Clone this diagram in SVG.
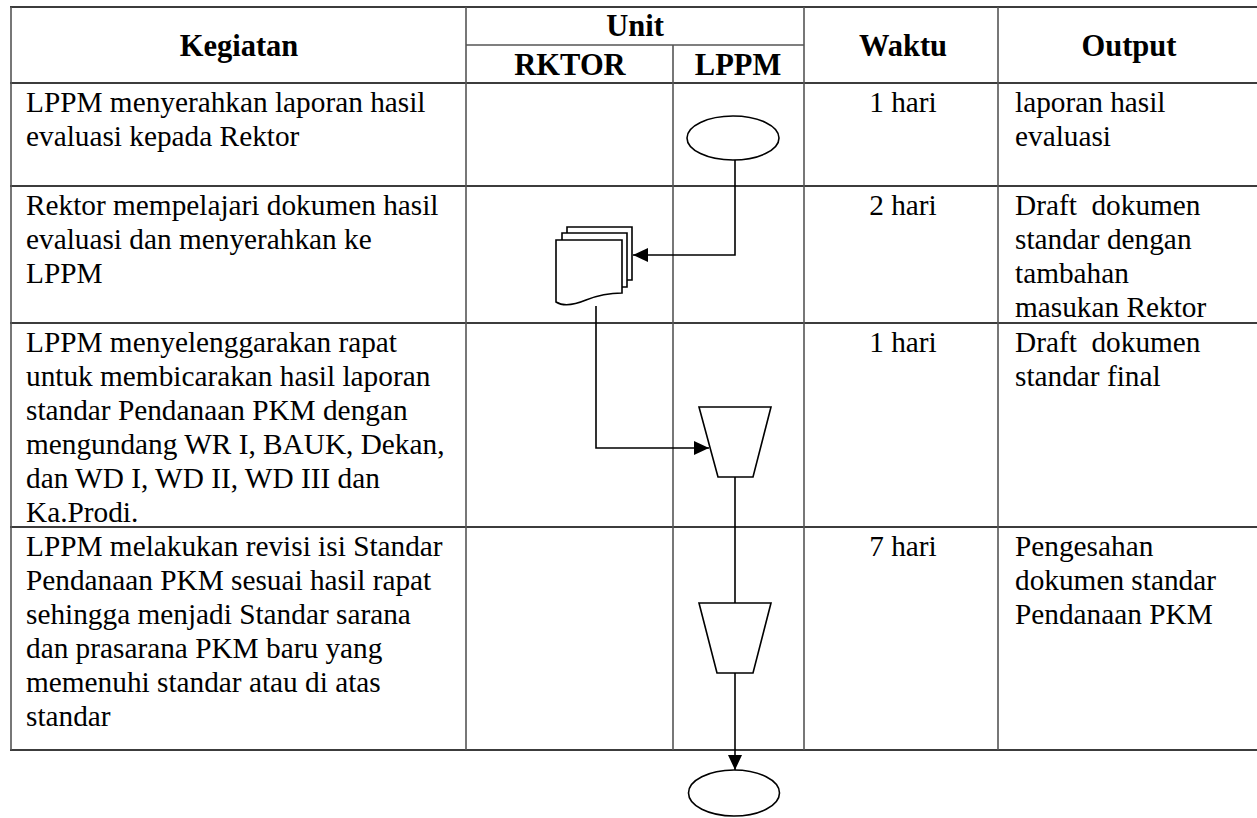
<svg xmlns="http://www.w3.org/2000/svg" width="1257" height="818" viewBox="0 0 1257 818">
<style>
.grid{stroke:#3c3c3c;stroke-width:2;fill:none}
.vgrid{stroke:#555;stroke-width:1.6;fill:none}
.hd{font-family:"Liberation Serif",Tinos,"Times New Roman","DejaVu Serif",serif;font-weight:bold;font-size:30.5px;fill:#000;text-anchor:middle}
.tx{font-family:"Liberation Serif",Tinos,"Times New Roman","DejaVu Serif",serif;font-weight:400;font-style:normal;font-size:29.3px;fill:#000}
.ctr{text-anchor:middle}
.shape{fill:#fff;stroke:#000;stroke-width:1.6}
.conn{fill:none;stroke:#000;stroke-width:1.6}
</style>
<defs>
<marker id="arr" markerWidth="16" markerHeight="14" refX="15" refY="7" orient="auto" markerUnits="userSpaceOnUse">
<path d="M0,0 L15,7 L0,14 Z" fill="#000"/>
</marker>
</defs>
<rect width="1257" height="818" fill="#fff"/>
<g id="table">
<line class="grid" x1="10" y1="7" x2="1257" y2="7"/>
<line class="grid" x1="10" y1="83" x2="1257" y2="83"/>
<line class="grid" x1="10" y1="186" x2="1257" y2="186"/>
<line class="grid" x1="10" y1="323" x2="1257" y2="323"/>
<line class="grid" x1="10" y1="527" x2="1257" y2="527"/>
<line class="grid" x1="10" y1="750" x2="1257" y2="750"/>
<line class="vgrid" x1="466" y1="45" x2="804" y2="45"/>
<line class="vgrid" x1="11" y1="7" x2="11" y2="750"/>
<line class="vgrid" x1="466" y1="7" x2="466" y2="750"/>
<line class="vgrid" x1="673" y1="45" x2="673" y2="750"/>
<line class="vgrid" x1="804" y1="7" x2="804" y2="750"/>
<line class="vgrid" x1="998" y1="7" x2="998" y2="750"/>
<text class="hd" x="239" y="56">Kegiatan</text>
<text class="hd" x="635" y="36">Unit</text>
<text class="hd" x="570" y="75">RKTOR</text>
<text class="hd" x="738" y="75">LPPM</text>
<text class="hd" x="903" y="56">Waktu</text>
<text class="hd" x="1129" y="56">Output</text>
</g>
<g id="row1-text">
<text class="tx" x="26" y="112">LPPM menyerahkan laporan hasil<tspan x="26" dy="34">evaluasi kepada Rektor</tspan></text>
<text class="tx ctr" x="903" y="112">1 hari</text>
<text class="tx" x="1015" y="112">laporan hasil<tspan x="1015" dy="34">evaluasi</tspan></text>
</g>
<g id="row2-text">
<text class="tx" x="26" y="215">Rektor mempelajari dokumen hasil<tspan x="26" dy="34">evaluasi dan menyerahkan ke</tspan><tspan x="26" dy="34">LPPM</tspan></text>
<text class="tx ctr" x="903" y="215">2 hari</text>
<text class="tx" x="1015" y="215" xml:space="preserve">Draft  dokumen<tspan x="1015" dy="34">standar dengan</tspan><tspan x="1015" dy="34">tambahan</tspan><tspan x="1015" dy="34">masukan Rektor</tspan></text>
</g>
<g id="row3-text">
<text class="tx" x="26" y="352">LPPM menyelenggarakan rapat<tspan x="26" dy="34">untuk membicarakan hasil laporan</tspan><tspan x="26" dy="34">standar Pendanaan PKM dengan</tspan><tspan x="26" dy="34">mengundang WR I, BAUK, Dekan,</tspan><tspan x="26" dy="34">dan WD I, WD II, WD III dan</tspan><tspan x="26" dy="34">Ka.Prodi.</tspan></text>
<text class="tx ctr" x="903" y="352">1 hari</text>
<text class="tx" x="1015" y="352" xml:space="preserve">Draft  dokumen<tspan x="1015" dy="34">standar final</tspan></text>
</g>
<g id="row4-text">
<text class="tx" x="26" y="556">LPPM melakukan revisi isi Standar<tspan x="26" dy="34">Pendanaan PKM sesuai hasil rapat</tspan><tspan x="26" dy="34">sehingga menjadi Standar sarana</tspan><tspan x="26" dy="34">dan prasarana PKM baru yang</tspan><tspan x="26" dy="34">memenuhi standar atau di atas</tspan><tspan x="26" dy="34">standar</tspan></text>
<text class="tx ctr" x="903" y="556">7 hari</text>
<text class="tx" x="1015" y="556">Pengesahan<tspan x="1015" dy="34">dokumen standar</tspan><tspan x="1015" dy="34">Pendanaan PKM</tspan></text>
</g>
<g id="connectors">
<path class="conn" d="M735,160 V255 H633" marker-end="url(#arr)"/>
<path class="conn" d="M596,306 V448 H709" marker-end="url(#arr)"/>
<path class="conn" d="M735,477 V603"/>
<path class="conn" d="M735,673 V770" marker-end="url(#arr)"/>
</g>
<g id="start">
<ellipse class="shape" cx="733" cy="138" rx="46" ry="22"/>
</g>
<g id="document">
<path class="shape" d="M567,227 H632 V280 H567 Z"/>
<path class="shape" d="M562,233 H627 V287 H562 Z"/>
<path class="shape" d="M556,240 H622 V293 C606,293 596,296 586,300 C574,305 564,307 556,302 Z"/>
</g>
<g id="meeting">
<path class="shape" d="M699,407 H771 L753,477 H718 Z"/>
</g>
<g id="revision">
<path class="shape" d="M699,603 H771 L753,673 H717 Z"/>
</g>
<g id="end">
<ellipse class="shape" cx="734" cy="793" rx="45.5" ry="23"/>
</g>
</svg>
